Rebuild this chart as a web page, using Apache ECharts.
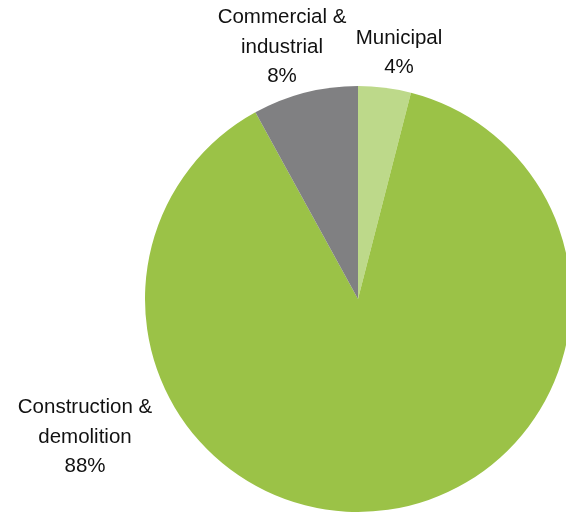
<!DOCTYPE html>
<html>
<head>
<meta charset="utf-8">
<style>
  html, body { margin: 0; padding: 0; background: #ffffff; }
  #chart { width: 566px; height: 513px; }
</style>
<script src="https://cdn.jsdelivr.net/npm/echarts@6/dist/echarts.min.js"></script>
</head>
<body>
<div id="chart"></div>
<script>
// Waste sources, share of total (%)
const categories = ['Municipal', 'Construction &\ndemolition', 'Commercial &\nindustrial'];
const shares = [4, 88, 8];
const colors = ['#bdd98a', '#9bc247', '#808082'];
// Label anchor points (centre of each text block)
const labelAnchors = [[399, 53], [85, 437], [282, 47]];

const chart = echarts.init(document.getElementById('chart'), null, { renderer: 'canvas' });

chart.setOption({
  animation: false,
  backgroundColor: '#ffffff',
  series: [{
    type: 'pie',
    center: [358, 299],
    radius: [0, 213],
    startAngle: 90,
    clockwise: true,
    avoidLabelOverlap: false,
    data: categories.map((name, i) => ({
      name: name,
      value: shares[i],
      itemStyle: { color: colors[i] }
    })),
    itemStyle: { borderWidth: 0 },
    emphasis: { disabled: true },
    label: {
      show: true,
      position: 'outside',
      formatter: p => p.name + '\n' + p.value + '%',
      fontFamily: '"Liberation Sans", Arial, sans-serif',
      fontSize: 20.5,
      lineHeight: 29.5,
      color: '#111111',
      align: 'center',
      width: 200,
      overflow: 'none'
    },
    labelLine: { show: false },
    labelLayout: function (params) {
      const a = labelAnchors[params.dataIndex];
      return { x: a[0], y: a[1], align: 'center', verticalAlign: 'middle' };
    }
  }]
});
</script>
</body>
</html>
